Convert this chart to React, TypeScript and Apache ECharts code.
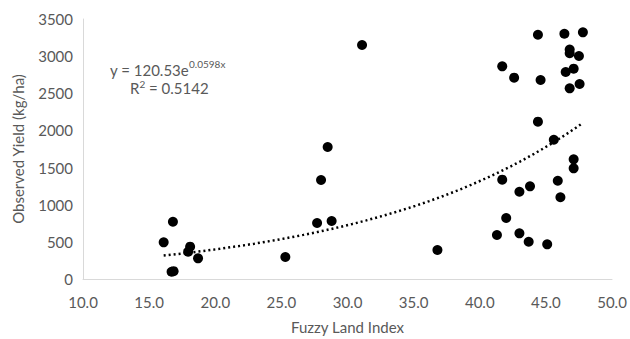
import React, { useEffect, useRef } from "react";
import * as echarts from "echarts";

const fuzzyIndex: number[] = [
  16.1, 16.8, 16.7, 16.85, 18.1, 17.95, 18.7, 25.3, 27.7, 28.0, 28.8, 28.5, 31.1, 36.8,
  41.3, 41.7, 42.0, 43.0, 43.8, 43.0, 43.7, 45.1, 45.9, 46.1, 47.1, 47.1, 45.6, 44.4,
  41.7, 42.6, 44.4, 44.6, 46.4, 47.8, 46.8, 46.8, 47.5, 47.1, 46.5, 47.55, 46.8,
];
const observedYield: number[] = [
  494, 771, 98, 105, 435, 367, 278, 296, 754, 1333, 781, 1777, 3150, 390,
  592, 1337, 821, 1175, 1247, 615, 502, 467, 1323, 1100, 1611, 1490, 1875, 2118,
  2863, 2710, 3288, 2679, 3302, 3320, 3090, 3040, 3002, 2831, 2786, 2625, 2567,
];
const xTicks = { min: 10, max: 50, interval: 5 };
const yTicks = { min: 0, max: 3500, interval: 500 };
const trendA = 120.53;
const trendB = 0.0598;
const equationText = "y = 120.53e";
const equationExp = "0.0598x";
const r2Text = "0.5142";

export default function App() {
  const ref = useRef<HTMLDivElement>(null);
  useEffect(() => {
    if (!ref.current) return;
    const chart = echarts.init(ref.current, undefined, { renderer: "svg" });
    const points = fuzzyIndex.map((x, i) => [x, observedYield[i]]);
    const xMin = Math.min(...fuzzyIndex);
    const xMax = Math.max(...fuzzyIndex);
    const trend: number[][] = [];
    const n = 60;
    for (let i = 0; i <= n; i++) {
      const x = xMin + ((xMax - xMin) * i) / n;
      trend.push([x, trendA * Math.exp(trendB * x)]);
    }
    const font = "Lato, 'Open Sans', sans-serif";
    chart.setOption({
      animation: false,
      backgroundColor: "#ffffff",
      textStyle: { fontFamily: font },
      grid: { left: 83, right: 18, top: 19, bottom: 60 },
      xAxis: {
        type: "value",
        min: xTicks.min,
        max: xTicks.max,
        interval: xTicks.interval,
        name: "Fuzzy Land Index",
        nameLocation: "middle",
        nameGap: 40,
        nameTextStyle: { color: "#595959", fontSize: 15, fontFamily: font },
        axisLine: { show: true, lineStyle: { color: "#d9d9d9", width: 1 } },
        axisTick: { show: false },
        splitLine: { show: false },
        axisLabel: {
          color: "#595959",
          fontSize: 15,
          fontFamily: font,
          margin: 15,
          formatter: (v: number) => v.toFixed(1),
        },
      },
      yAxis: {
        type: "value",
        min: yTicks.min,
        max: yTicks.max,
        interval: yTicks.interval,
        name: "Observed Yield (kg/ha)",
        nameLocation: "middle",
        nameGap: 58,
        nameTextStyle: { color: "#595959", fontSize: 15, fontFamily: font },
        axisLine: { show: true, lineStyle: { color: "#d9d9d9", width: 1 } },
        axisTick: { show: false },
        splitLine: { show: false },
        axisLabel: {
          color: "#595959",
          fontSize: 15,
          fontFamily: font,
          margin: 10,
          formatter: (v: number) => String(v),
        },
      },
      series: [
        {
          type: "line",
          data: trend,
          showSymbol: false,
          symbol: "none",
          smooth: false,
          lineStyle: { color: "#000000", width: 2.5, type: [2, 3] },
          z: 1,
        },
        {
          type: "scatter",
          data: points,
          symbol: "circle",
          symbolSize: 10,
          itemStyle: { color: "#000000", opacity: 1 },
          z: 2,
        },
      ],
      graphic: [
        {
          type: "text",
          left: 110,
          top: 59,
          style: {
            text: `{b|${equationText}}{s|${equationExp}}`,
            rich: {
              b: { fontSize: 15, fill: "#595959", fontFamily: font, verticalAlign: "bottom", lineHeight: 18 },
              s: { fontSize: 10, fill: "#595959", fontFamily: font, verticalAlign: "top", padding: [0, 0, 8, 0], lineHeight: 18 },
            },
          },
        },
        {
          type: "text",
          left: 130,
          top: 79,
          style: {
            text: `{b|R}{s|2}{b| = ${r2Text}}`,
            rich: {
              b: { fontSize: 15, fill: "#595959", fontFamily: font, lineHeight: 18 },
              s: { fontSize: 10, fill: "#595959", fontFamily: font, padding: [0, 0, 8, 0], lineHeight: 18 },
            },
          },
        },
      ],
    });
    return () => chart.dispose();
  }, []);
  return (
    <div
      ref={ref}
      style={{ position: "fixed", left: 0, top: 0, width: 630, height: 339, background: "#fff" }}
    />
  );
}
